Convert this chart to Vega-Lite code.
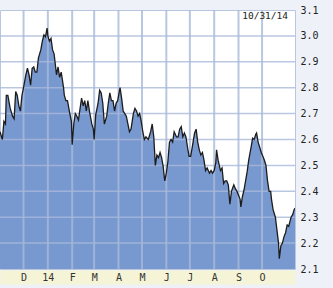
{
  "$schema": "https://vega.github.io/schema/vega-lite/v6.json",
  "autosize": "none",
  "width": 295,
  "height": 259,
  "padding": {"left": 0, "top": 10, "right": 38, "bottom": 19},
  "background": "#eef2f8",
  "config": {"view": {"stroke": "#b9c6df", "strokeWidth": 1, "fill": "white"}},
  "title": {"text": "10/31/14", "anchor": "end", "frame": "group", "orient": "top", "offset": -9.5, "dy": 14, "baseline": "alphabetic", "font": "DejaVu Sans Mono", "fontSize": 9.5, "fontWeight": "normal", "color": "#222", "dx": -7},
  "datasets": {
    "yield": [
      {"d": "2013-11-01", "v": 2.63}, {"d": "2013-11-04", "v": 2.60}, {"d": "2013-11-06", "v": 2.67}, {"d": "2013-11-08", "v": 2.66},
      {"d": "2013-11-09", "v": 2.77}, {"d": "2013-11-11", "v": 2.77}, {"d": "2013-11-14", "v": 2.72}, {"d": "2013-11-17", "v": 2.69},
      {"d": "2013-11-19", "v": 2.68}, {"d": "2013-11-21", "v": 2.785}, {"d": "2013-11-23", "v": 2.77}, {"d": "2013-11-25", "v": 2.73},
      {"d": "2013-11-27", "v": 2.71}, {"d": "2013-11-29", "v": 2.77}, {"d": "2013-12-01", "v": 2.80}, {"d": "2013-12-04", "v": 2.85},
      {"d": "2013-12-06", "v": 2.875}, {"d": "2013-12-08", "v": 2.85}, {"d": "2013-12-10", "v": 2.81}, {"d": "2013-12-12", "v": 2.875},
      {"d": "2013-12-14", "v": 2.88}, {"d": "2013-12-16", "v": 2.86}, {"d": "2013-12-18", "v": 2.86}, {"d": "2013-12-20", "v": 2.915},
      {"d": "2013-12-23", "v": 2.946}, {"d": "2013-12-25", "v": 2.98}, {"d": "2013-12-27", "v": 3.004}, {"d": "2013-12-29", "v": 2.997},
      {"d": "2013-12-31", "v": 3.03}, {"d": "2014-01-01", "v": 3.0}, {"d": "2014-01-03", "v": 2.98}, {"d": "2014-01-05", "v": 2.99},
      {"d": "2014-01-07", "v": 2.946}, {"d": "2014-01-09", "v": 2.93}, {"d": "2014-01-12", "v": 2.85}, {"d": "2014-01-14", "v": 2.88},
      {"d": "2014-01-16", "v": 2.84}, {"d": "2014-01-18", "v": 2.86}, {"d": "2014-01-21", "v": 2.80}, {"d": "2014-01-22", "v": 2.77},
      {"d": "2014-01-24", "v": 2.75}, {"d": "2014-01-26", "v": 2.75}, {"d": "2014-01-29", "v": 2.70}, {"d": "2014-01-31", "v": 2.67},
      {"d": "2014-02-01", "v": 2.58}, {"d": "2014-02-03", "v": 2.66}, {"d": "2014-02-05", "v": 2.70}, {"d": "2014-02-07", "v": 2.69},
      {"d": "2014-02-09", "v": 2.675}, {"d": "2014-02-12", "v": 2.74}, {"d": "2014-02-13", "v": 2.76}, {"d": "2014-02-15", "v": 2.73},
      {"d": "2014-02-17", "v": 2.75}, {"d": "2014-02-19", "v": 2.71}, {"d": "2014-02-21", "v": 2.75}, {"d": "2014-02-23", "v": 2.71},
      {"d": "2014-02-26", "v": 2.66}, {"d": "2014-02-28", "v": 2.64}, {"d": "2014-03-01", "v": 2.60}, {"d": "2014-03-03", "v": 2.695},
      {"d": "2014-03-06", "v": 2.74}, {"d": "2014-03-08", "v": 2.79}, {"d": "2014-03-10", "v": 2.78}, {"d": "2014-03-12", "v": 2.74},
      {"d": "2014-03-14", "v": 2.66}, {"d": "2014-03-17", "v": 2.69}, {"d": "2014-03-19", "v": 2.74}, {"d": "2014-03-21", "v": 2.78},
      {"d": "2014-03-23", "v": 2.75}, {"d": "2014-03-25", "v": 2.75}, {"d": "2014-03-27", "v": 2.71}, {"d": "2014-03-29", "v": 2.74},
      {"d": "2014-03-31", "v": 2.75}, {"d": "2014-04-03", "v": 2.80}, {"d": "2014-04-05", "v": 2.76}, {"d": "2014-04-07", "v": 2.71},
      {"d": "2014-04-09", "v": 2.70}, {"d": "2014-04-11", "v": 2.69}, {"d": "2014-04-13", "v": 2.66}, {"d": "2014-04-15", "v": 2.63},
      {"d": "2014-04-17", "v": 2.64}, {"d": "2014-04-20", "v": 2.70}, {"d": "2014-04-22", "v": 2.72}, {"d": "2014-04-24", "v": 2.71},
      {"d": "2014-04-26", "v": 2.69}, {"d": "2014-04-28", "v": 2.70}, {"d": "2014-04-30", "v": 2.67}, {"d": "2014-05-02", "v": 2.63},
      {"d": "2014-05-04", "v": 2.60}, {"d": "2014-05-06", "v": 2.61}, {"d": "2014-05-09", "v": 2.60}, {"d": "2014-05-12", "v": 2.63},
      {"d": "2014-05-14", "v": 2.66}, {"d": "2014-05-16", "v": 2.61}, {"d": "2014-05-18", "v": 2.50}, {"d": "2014-05-20", "v": 2.54},
      {"d": "2014-05-22", "v": 2.53}, {"d": "2014-05-24", "v": 2.55}, {"d": "2014-05-26", "v": 2.53}, {"d": "2014-05-28", "v": 2.495},
      {"d": "2014-05-30", "v": 2.44}, {"d": "2014-06-01", "v": 2.47}, {"d": "2014-06-03", "v": 2.515}, {"d": "2014-06-05", "v": 2.59},
      {"d": "2014-06-07", "v": 2.60}, {"d": "2014-06-09", "v": 2.59}, {"d": "2014-06-11", "v": 2.63}, {"d": "2014-06-14", "v": 2.61},
      {"d": "2014-06-16", "v": 2.61}, {"d": "2014-06-18", "v": 2.64}, {"d": "2014-06-20", "v": 2.65}, {"d": "2014-06-22", "v": 2.61},
      {"d": "2014-06-24", "v": 2.625}, {"d": "2014-06-26", "v": 2.61}, {"d": "2014-06-28", "v": 2.57}, {"d": "2014-06-30", "v": 2.535},
      {"d": "2014-07-02", "v": 2.535}, {"d": "2014-07-04", "v": 2.57}, {"d": "2014-07-07", "v": 2.625}, {"d": "2014-07-09", "v": 2.64},
      {"d": "2014-07-11", "v": 2.59}, {"d": "2014-07-13", "v": 2.56}, {"d": "2014-07-15", "v": 2.54}, {"d": "2014-07-17", "v": 2.55},
      {"d": "2014-07-19", "v": 2.52}, {"d": "2014-07-21", "v": 2.48}, {"d": "2014-07-23", "v": 2.49}, {"d": "2014-07-26", "v": 2.47},
      {"d": "2014-07-28", "v": 2.48}, {"d": "2014-07-30", "v": 2.47}, {"d": "2014-08-01", "v": 2.48}, {"d": "2014-08-03", "v": 2.51},
      {"d": "2014-08-04", "v": 2.56}, {"d": "2014-08-06", "v": 2.52}, {"d": "2014-08-09", "v": 2.48}, {"d": "2014-08-11", "v": 2.49},
      {"d": "2014-08-13", "v": 2.43}, {"d": "2014-08-15", "v": 2.44}, {"d": "2014-08-17", "v": 2.44}, {"d": "2014-08-19", "v": 2.425},
      {"d": "2014-08-21", "v": 2.35}, {"d": "2014-08-23", "v": 2.40}, {"d": "2014-08-26", "v": 2.425}, {"d": "2014-08-28", "v": 2.41},
      {"d": "2014-08-30", "v": 2.40}, {"d": "2014-09-01", "v": 2.385}, {"d": "2014-09-03", "v": 2.37}, {"d": "2014-09-04", "v": 2.34},
      {"d": "2014-09-06", "v": 2.38}, {"d": "2014-09-08", "v": 2.405}, {"d": "2014-09-10", "v": 2.44}, {"d": "2014-09-12", "v": 2.475},
      {"d": "2014-09-14", "v": 2.52}, {"d": "2014-09-17", "v": 2.57}, {"d": "2014-09-19", "v": 2.605}, {"d": "2014-09-21", "v": 2.60},
      {"d": "2014-09-23", "v": 2.62}, {"d": "2014-09-24", "v": 2.625}, {"d": "2014-09-26", "v": 2.59}, {"d": "2014-09-28", "v": 2.57},
      {"d": "2014-09-30", "v": 2.55}, {"d": "2014-10-02", "v": 2.535}, {"d": "2014-10-04", "v": 2.52}, {"d": "2014-10-06", "v": 2.50},
      {"d": "2014-10-08", "v": 2.44}, {"d": "2014-10-10", "v": 2.40}, {"d": "2014-10-12", "v": 2.40}, {"d": "2014-10-13", "v": 2.37},
      {"d": "2014-10-15", "v": 2.33}, {"d": "2014-10-18", "v": 2.30}, {"d": "2014-10-20", "v": 2.25}, {"d": "2014-10-22", "v": 2.20},
      {"d": "2014-10-23", "v": 2.14}, {"d": "2014-10-25", "v": 2.19}, {"d": "2014-10-27", "v": 2.20}, {"d": "2014-10-29", "v": 2.225},
      {"d": "2014-10-31", "v": 2.24}, {"d": "2014-11-02", "v": 2.27}, {"d": "2014-11-04", "v": 2.265}, {"d": "2014-11-07", "v": 2.30},
      {"d": "2014-11-09", "v": 2.31}, {"d": "2014-11-11", "v": 2.33}, {"d": "2014-11-12", "v": 2.335}
    ],
    "monthGrid": [
      {"d": "2013-12-01"}, {"d": "2014-01-01"}, {"d": "2014-02-01"}, {"d": "2014-03-01"}, {"d": "2014-04-01"}, {"d": "2014-05-01"},
      {"d": "2014-06-01"}, {"d": "2014-07-01"}, {"d": "2014-08-01"}, {"d": "2014-09-01"}, {"d": "2014-10-01"}
    ],
    "levelGrid": [
      {"v": 2.2}, {"v": 2.3}, {"v": 2.4}, {"v": 2.5}, {"v": 2.6}, {"v": 2.7}, {"v": 2.8}, {"v": 2.9}, {"v": 3.0}
    ]
  },
  "layer": [
    {
      "data": {"name": "yield"},
      "mark": {"type": "area", "color": "#7898d0", "opacity": 1, "clip": true},
      "encoding": {
        "x": {
          "field": "d", "type": "temporal",
          "scale": {"type": "utc", "domain": [{"year": 2013, "month": 11, "date": 1, "utc": true}, {"year": 2014, "month": 11, "date": 12, "utc": true}]},
          "axis": {
            "title": null, "orient": "bottom",
            "tickCount": {"interval": "month", "step": 1},
            "labels": false, "grid": false, "ticks": false,
            "domainColor": "#f6f4d6", "domainWidth": 14, "offset": 8, "zindex": 1
          }
        },
        "y": {
          "field": "v", "type": "quantitative",
          "scale": {"domain": [2.1, 3.1], "zero": false, "nice": false},
          "axis": {
            "title": null, "orient": "right",
            "values": [2.1, 2.2, 2.3, 2.4, 2.5, 2.6, 2.7, 2.8, 2.9, 3.0, 3.1],
            "format": ".1f", "grid": false,
            "ticks": false, "domain": false, "labelPadding": 5,
            "labelFont": "DejaVu Sans Mono", "labelFontSize": 10, "labelColor": "#222",
            "labelOverlap": false, "labelFlush": false, "zindex": 1
          }
        }
      }
    },
    {
      "data": {"name": "monthGrid"},
      "mark": {"type": "rule", "stroke": "#a9b9d8", "strokeOpacity": 0.8, "strokeWidth": 2},
      "encoding": {
        "x": {"field": "d", "type": "temporal", "axis": null}
      }
    },
    {
      "data": {"name": "levelGrid"},
      "mark": {"type": "rule", "stroke": "#a9b9d8", "strokeOpacity": 0.8, "strokeWidth": 1.5},
      "encoding": {
        "y": {
          "field": "v", "type": "quantitative",
          "axis": {
            "title": null, "orient": "right",
            "values": [2.1, 2.2, 2.3, 2.4, 2.5, 2.6, 2.7, 2.8, 2.9, 3.0, 3.1],
            "format": ".1f", "grid": false,
            "ticks": false, "domain": false, "labelPadding": 5,
            "labelFont": "DejaVu Sans Mono", "labelFontSize": 10, "labelColor": "#222",
            "labelOverlap": false, "labelFlush": false, "zindex": 1
          }
        }
      }
    },
    {
      "data": {"name": "yield"},
      "mark": {"type": "line", "color": "#1c1c1c", "strokeWidth": 1.3, "clip": true},
      "encoding": {
        "x": {
          "field": "d", "type": "temporal",
          "axis": {
            "title": null, "orient": "bottom",
            "tickCount": {"interval": "month", "step": 1},
            "labelExpr": "utcmonth(datum.value) == 10 ? '' : utcmonth(datum.value) == 0 ? utcFormat(datum.value, '%y') : ['J','F','M','A','M','J','J','A','S','O','N','D'][utcmonth(datum.value)]",
            "grid": false, "ticks": false, "domain": false, "offset": 8,
            "labelPadding": 0, "labelBaseline": "middle",
            "labelFont": "DejaVu Sans Mono", "labelFontSize": 10, "labelColor": "#333",
            "labelOverlap": false, "labelFlush": false, "zindex": 2
          }
        },
        "y": {
          "field": "v", "type": "quantitative",
          "axis": {
            "title": null, "orient": "right",
            "values": [2.1, 2.2, 2.3, 2.4, 2.5, 2.6, 2.7, 2.8, 2.9, 3.0, 3.1],
            "format": ".1f", "grid": false,
            "ticks": false, "domain": false, "labelPadding": 5,
            "labelFont": "DejaVu Sans Mono", "labelFontSize": 10, "labelColor": "#222",
            "labelOverlap": false, "labelFlush": false, "zindex": 1
          }
        }
      }
    }
  ],
  "resolve": {"axis": {"x": "independent"}}
}
